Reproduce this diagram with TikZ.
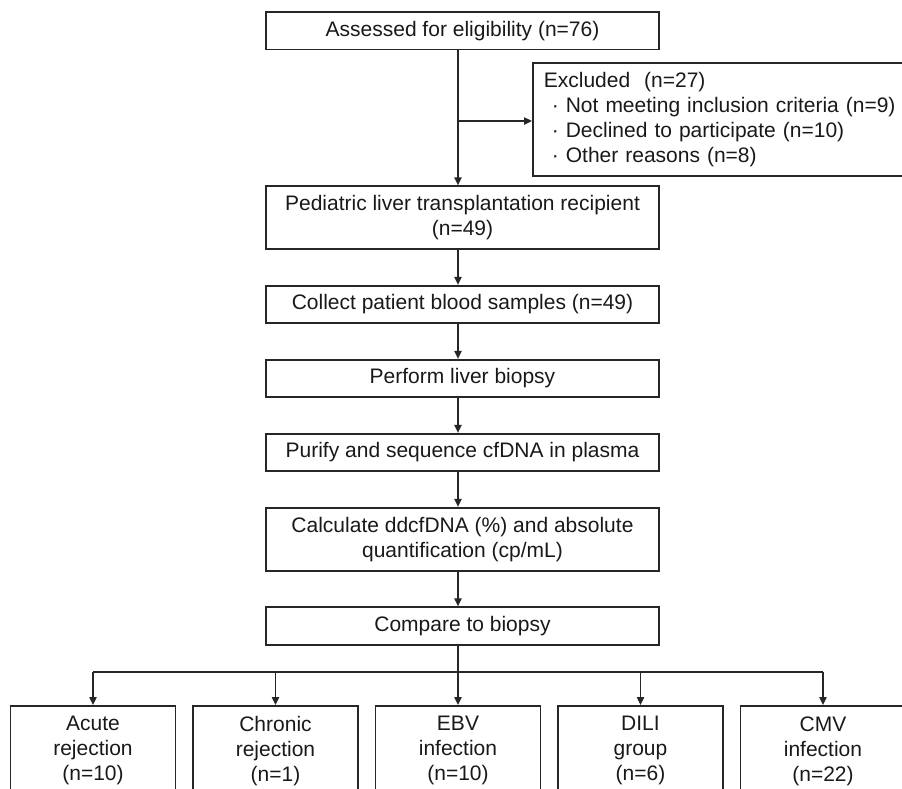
\documentclass[tikz,border=0pt]{standalone}
\usepackage{fontspec}
\setmainfont{Liberation Sans}
\usepackage{tikz}
\usetikzlibrary{arrows.meta,positioning}

\begin{document}
\begin{tikzpicture}[
		x=0.5pt, y=-0.5pt,
		>={Triangle[length=4pt,width=3.6pt]},
		node distance=17.4pt,
		every node/.style={font=\fontsize{10.5}{12.5}\selectfont, text=black!90},
		box/.style={draw=black!85, line width=0.85pt, align=center, minimum width=196.5pt, minimum height=18.75pt, inner sep=2pt},
		tallbox/.style={box, minimum height=31.5pt},
		exbox/.style={draw=black!85, line width=0.85pt, align=left, text width=190pt, minimum height=56.5pt, inner xsep=5.5pt, inner ysep=2pt},
		groupbox/.style={draw=black!85, line width=0.85pt, align=center, minimum width=82.5pt, minimum height=45pt, inner sep=2pt},
		link/.style={->, draw=black!85, line width=0.85pt}
		]
		
		\useasboundingbox (0,0) rectangle (902,789);
		\clip (0,0) rectangle (902,789);
		\coordinate (axis) at (458,0);
		
		\node[box, anchor=north] (assess) at (462.5,11) {Assessed for eligibility (n=76)};
		\node[exbox, anchor=north west] (excl) at (532,62) {Excluded\ \ (n=27)\\
			\hspace*{4pt}· Not meeting inclusion criteria (n=9)\\
			\hspace*{4pt}· Declined to participate (n=10)\\
			\hspace*{4pt}· Other reasons (n=8)};
		\node[tallbox, below=67.6pt of assess] (recip) {Pediatric liver transplantation recipient \\ (n=49)};
		\node[box, below=of recip] (blood) {Collect patient blood samples (n=49)};
		\node[box, below=of blood] (biopsy) {Perform liver biopsy};
		\node[box, below=of biopsy] (seq) {Purify and sequence cfDNA in plasma};
		\node[tallbox, below=of seq] (calc) {Calculate ddcfDNA (\%) and absolute \\ quantification (cp/mL)};
		\node[box, below=of calc] (cmp) {Compare to biopsy};
		
		\node[groupbox, anchor=north] (acute) at (93,705) {Acute \\ rejection \\ (n=10)};
		\node[groupbox, right=7.9pt of acute] (chronic) {Chronic \\ rejection \\ (n=1)};
		\node[groupbox, right=7.9pt of chronic] (ebv) {EBV \\ infection \\ (n=10)};
		\node[groupbox, right=7.9pt of ebv] (dili) {DILI \\ group \\ (n=6)};
		\node[groupbox, right=7.9pt of dili] (cmv) {CMV \\ infection \\ (n=22)};
		
		\coordinate (split) at (458,121);
		\coordinate (fork) at (458,672);
		
		\draw[link] (assess.south -| axis) -- (recip.north -| axis);
		\draw[link] (split) -- (split -| excl.west);
		\draw[link] (recip.south -| axis) -- (blood.north -| axis);
		\draw[link] (blood.south -| axis) -- (biopsy.north -| axis);
		\draw[link] (biopsy.south -| axis) -- (seq.north -| axis);
		\draw[link] (seq.south -| axis) -- (calc.north -| axis);
		\draw[link] (calc.south -| axis) -- (cmp.north -| axis);
		\draw[link] (cmp.south -| axis) -- (ebv.north -| axis);
		\draw[black!85, line width=0.85pt] (acute.north |- fork) -- (cmv.north |- fork);
		\foreach \g in {acute,chronic,dili,cmv}
			\draw[link] (\g.north |- fork) -- (\g.north);
		
	\end{tikzpicture}
\end{document}
